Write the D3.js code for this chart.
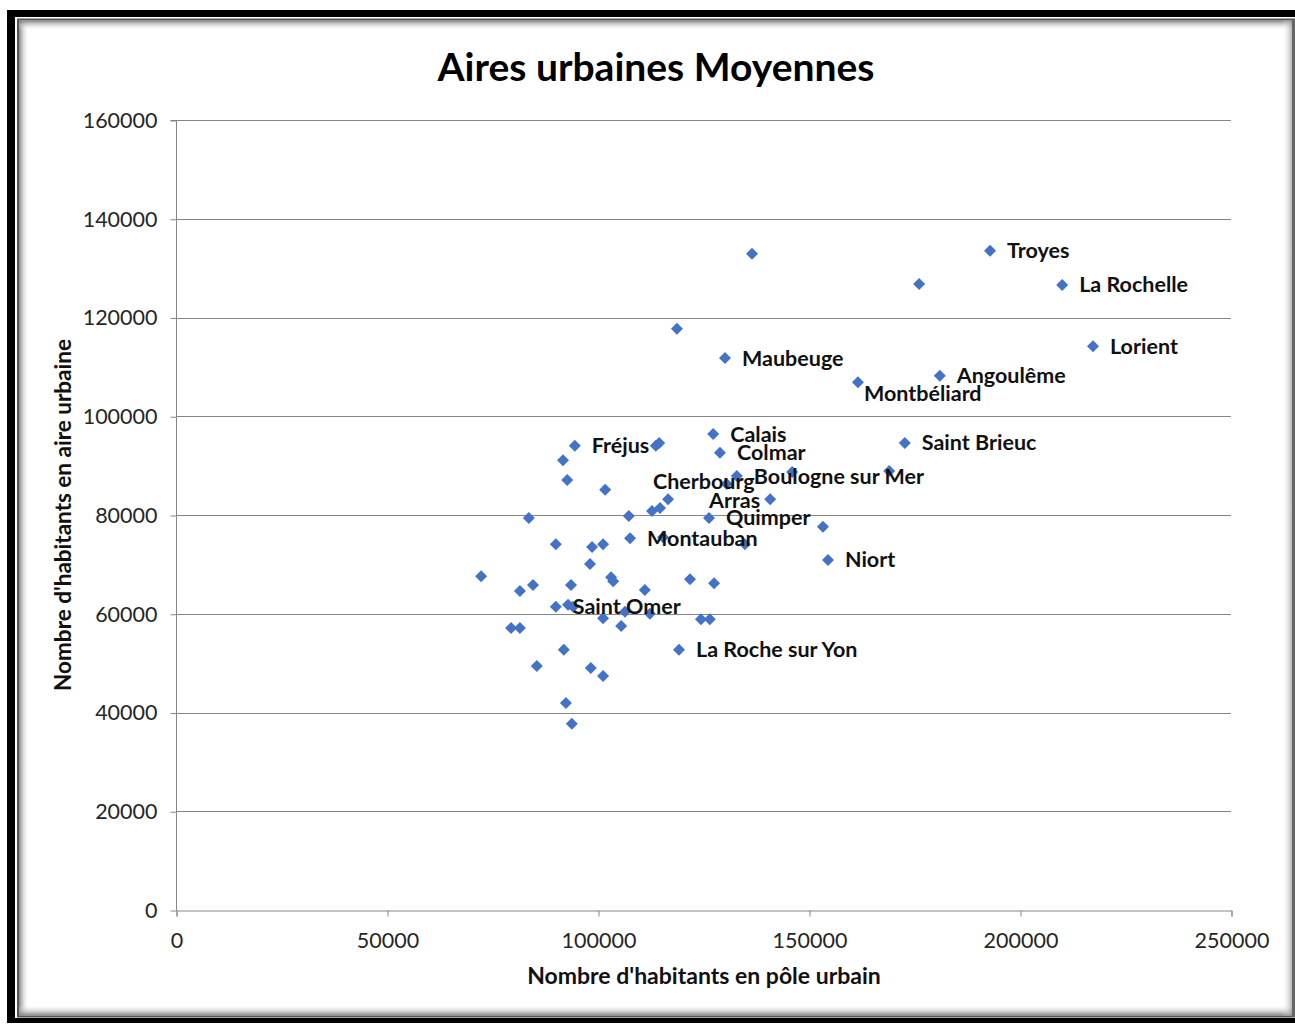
<!DOCTYPE html>
<html>
<head>
<meta charset="utf-8">
<script src="https://cdn.jsdelivr.net/npm/d3@7"></script>
<style>
  html, body { margin: 0; padding: 0; background: #fff; }
  svg { display: block; }
  text { font-family: Lato, "Open Sans", sans-serif; }
</style>
</head>
<body>
<svg id="chart" width="1295" height="1025"></svg>
<script>
// ---------------- DATA ----------------
const chartTitle = "Aires urbaines Moyennes";
const xAxisTitle = "Nombre d'habitants en pôle urbain";
const yAxisTitle = "Nombre d'habitants en aire urbaine";

// population of the urban pole (x)
const poleUrbain = [
  136500, 192900, 176100, 210000, 118700, 130100, 217300, 181000, 161600, 172700,
  169000, 146000, 127300, 128900, 132900, 140800, 126300, 153300, 154500, 134800,
  121800, 127500, 111100, 112300, 124400, 126500, 119200, 72300, 98100, 103100,
  103600, 81500, 84600, 93600, 90000, 92900, 94100, 106400, 101200, 105500,
  79400, 81500, 91900, 85500, 98300, 101200, 92400, 93800, 94500, 91700,
  92700, 101700, 113700, 114500, 116600, 112800, 114700, 83600, 107300, 107600,
  115400, 90000, 98600, 101200, 130500
];
// population of the urban area (y)
const aireUrbaine = [
  132900, 133500, 126800, 126600, 117700, 111800, 114200, 108200, 106900, 94600,
  88900, 88700, 96400, 92600, 87900, 83200, 79400, 77600, 70900, 74100,
  67000, 66200, 64800, 60000, 58900, 58900, 52700, 67600, 70100, 67400,
  66600, 64600, 65800, 65800, 61400, 61800, 61400, 60400, 59100, 57500,
  57100, 57100, 52700, 49400, 49000, 47400, 41900, 37700, 94000, 91100,
  87100, 85100, 94000, 94600, 83200, 80800, 81400, 79400, 79800, 75300,
  75500, 74100, 73500, 74100, 86300
];
// data labels ("" = unlabelled point)
const villes = [
  "", "Troyes", "", "La Rochelle", "", "Maubeuge", "Lorient", "Angoulême", "Montbéliard", "Saint Brieuc",
  "", "", "Calais", "Colmar", "Boulogne sur Mer", "Arras", "Quimper", "", "Niort", "",
  "", "", "", "", "", "", "La Roche sur Yon", "", "", "",
  "", "", "", "", "Saint Omer", "", "", "", "", "",
  "", "", "", "", "", "", "", "", "Fréjus", "",
  "", "", "", "", "", "", "", "", "", "Montauban",
  "", "", "", "", "Cherbourg"
];

const xTicks = [0, 50000, 100000, 150000, 200000, 250000];
const yTicks = [0, 20000, 40000, 60000, 80000, 100000, 120000, 140000, 160000];

// ---------------- LAYOUT ----------------
const W = 1295, H = 1025;
const plot = { left: 176, right: 1231, top: 120, bottom: 910 };
// manual label placements (Excel labels moved by hand)
const labelPlacement = {
  "Montbéliard": { dx: 6, dy: 11, anchor: "start" },
  "Arras": { dx: -10, dy: 1, anchor: "end" },
  "Cherbourg": { dx: 28, dy: -2, anchor: "end" }
};

const svg = d3.select("#chart");

// ---- frame (black border + inner shadow) ----
const defs = svg.append("defs");
function grad(id, x1, y1, x2, y2) {
  const g = defs.append("linearGradient").attr("id", id)
    .attr("x1", x1).attr("y1", y1).attr("x2", x2).attr("y2", y2);
  g.append("stop").attr("offset", "0%").attr("stop-color", "#777").attr("stop-opacity", 0.9);
  g.append("stop").attr("offset", "100%").attr("stop-color", "#fff").attr("stop-opacity", 0);
}
grad("gL", "0", "0", "1", "0");
grad("gR", "1", "0", "0", "0");
grad("gT", "0", "0", "0", "1");
grad("gB", "0", "1", "0", "0");

svg.append("rect").attr("x", 0).attr("y", 0).attr("width", W).attr("height", H).attr("fill", "#fff");
svg.append("rect").attr("x", 7).attr("y", 10).attr("width", W + 20).attr("height", 1013).attr("fill", "#000");
svg.append("rect").attr("x", 15).attr("y", 17).attr("width", W + 10).attr("height", 1001).attr("fill", "#fff");
svg.append("rect").attr("x", 18).attr("y", 19.5).attr("width", W + 10).attr("height", 997)
  .attr("fill", "#fff").attr("stroke", "#555").attr("stroke-width", 2);
const inner = { x: 19, y: 20.5, w: 1274, h: 995 };
svg.append("rect").attr("x", inner.x).attr("y", inner.y).attr("width", 10).attr("height", inner.h).attr("fill", "url(#gL)");
svg.append("rect").attr("x", inner.x).attr("y", inner.y).attr("width", inner.w).attr("height", 10).attr("fill", "url(#gT)");
svg.append("rect").attr("x", inner.x).attr("y", inner.y + inner.h - 11).attr("width", inner.w).attr("height", 11).attr("fill", "url(#gB)");
svg.append("rect").attr("x", 1282).attr("y", inner.y).attr("width", 13).attr("height", inner.h).attr("fill", "url(#gR)");
svg.append("rect").attr("x", 1292).attr("y", 19).attr("width", 3).attr("height", 998).attr("fill", "#666");

// ---- scales ----
const x = d3.scaleLinear().domain([0, 250000]).range([plot.left, plot.right]);
const y = d3.scaleLinear().domain([0, 160000]).range([plot.bottom, plot.top]);

const axisColor = "#868686";
const tickFont = 21.5;

// gridlines
svg.append("g").selectAll("line").data(yTicks.filter(d => d > 0)).join("line")
  .attr("x1", plot.left).attr("x2", plot.right)
  .attr("y1", d => Math.round(y(d)) + 0.5).attr("y2", d => Math.round(y(d)) + 0.5)
  .attr("stroke", axisColor).attr("stroke-width", 1);

// y axis
const yAxis = svg.append("g").attr("transform", `translate(${plot.left + 0.5},0.5)`)
  .call(d3.axisLeft(y).tickValues(yTicks).tickFormat(d3.format("d")).tickSize(6).tickPadding(13));
// x axis
const xAxis = svg.append("g").attr("transform", `translate(0.5,${plot.bottom + 0.5})`)
  .call(d3.axisBottom(x).tickValues(xTicks).tickFormat(d3.format("d")).tickSize(6).tickPadding(15));
[yAxis, xAxis].forEach(a => {
  a.select(".domain").attr("stroke", axisColor);
  a.selectAll(".tick line").attr("stroke", axisColor);
  a.selectAll(".tick text").attr("fill", "#262626").style("font-size", tickFont + "px")
    .style("font-family", "Lato, sans-serif");
});
yAxis.select(".domain").attr("d", `M-6,${y(160000)}H0V${y(0)}`);
xAxis.selectAll(".tick text").attr("dy", "0.75em");

// titles
svg.append("text").attr("x", 656).attr("y", 81).attr("text-anchor", "middle")
  .style("font-size", "39px").style("font-weight", "bold").attr("fill", "#000").text(chartTitle);
svg.append("text").attr("x", 704).attr("y", 984).attr("text-anchor", "middle")
  .style("font-size", "23px").style("font-weight", "bold").attr("fill", "#111").text(xAxisTitle);
svg.append("text").attr("transform", "translate(71,515) rotate(-90)").attr("text-anchor", "middle")
  .style("font-size", "22.5px").style("font-weight", "bold").attr("fill", "#111").text(yAxisTitle);

// ---- points ----
const pts = poleUrbain.map((v, i) => ({ x: v, y: aireUrbaine[i], name: villes[i] }));
svg.append("g").selectAll("path").data(pts).join("path")
  .attr("transform", d => `translate(${x(d.x)},${y(d.y)}) rotate(45)`)
  .attr("d", d3.symbol().type(d3.symbolSquare).size(72))
  .attr("fill", "#4472C4");

// ---- data labels ----
svg.append("g").selectAll("text").data(pts.filter(d => d.name)).join("text")
  .attr("x", d => x(d.x) + ((labelPlacement[d.name] || {}).dx ?? 17))
  .attr("y", d => y(d.y) + ((labelPlacement[d.name] || {}).dy ?? 0))
  .attr("dy", "0.35em")
  .attr("text-anchor", d => (labelPlacement[d.name] || {}).anchor || "start")
  .style("font-size", "21.5px").style("font-weight", "bold").attr("fill", "#111")
  .text(d => d.name);
</script>
</body>
</html>
